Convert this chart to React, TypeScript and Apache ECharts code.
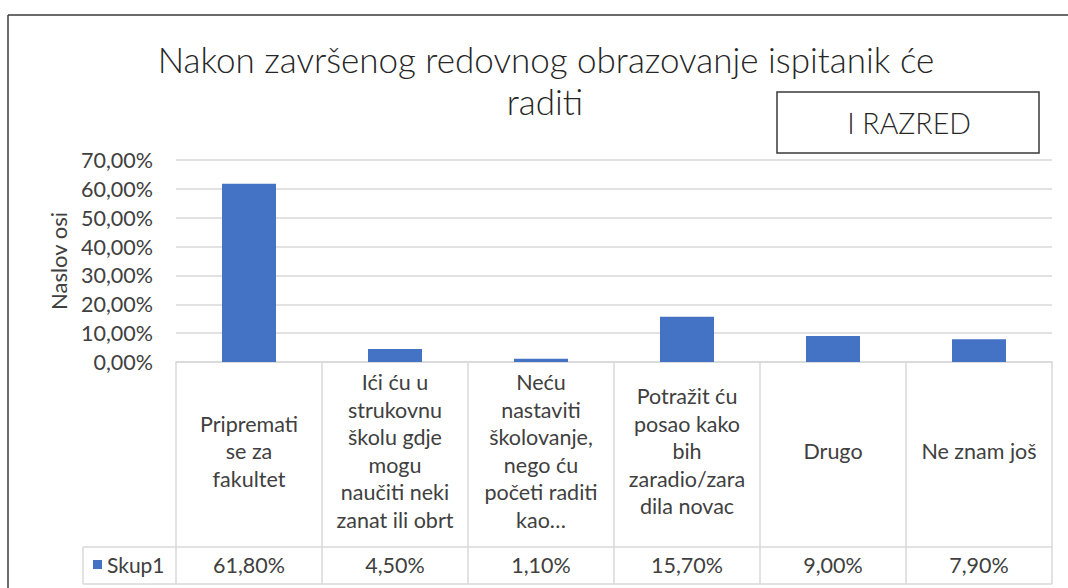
import React, { useEffect, useRef } from "react";
import * as echarts from "echarts";

const categories: string[] = [
  "Pripremati\nse za\nfakultet",
  "Ići ću u\nstrukovnu\nškolu gdje\nmogu\nnaučiti neki\nzanat ili obrt",
  "Neću\nnastaviti\nškolovanje,\nnego ću\npočeti raditi\nkao…",
  "Potražit ću\nposao kako\nbih\nzaradio/zara\ndila novac",
  "Drugo",
  "Ne znam još",
];
const values: number[] = [61.8, 4.5, 1.1, 15.7, 9.0, 7.9];
const seriesName = "Skup1";
const yMin = 0;
const yMax = 70;
const yInterval = 10;
const titleLines: string[] = ["Nakon završenog redovnog obrazovanje ispitanik će", "raditi"];
const boxLabel = "I RAZRED";
const axisName = "Naslov osi";

const FONT = "Lato, 'Liberation Sans', sans-serif";
const TXT = "#404040";
const GRIDC = "#d9d9d9";

const fmt = (v: number) => v.toFixed(2).replace(".", ",") + "%";

export default function App() {
  const ref = useRef<HTMLDivElement>(null);
  useEffect(() => {
    if (!ref.current) return;
    const chart = echarts.init(ref.current, undefined, { renderer: "svg" });
    const gridLeft = 176;
    const gridRight = 1052;
    const gridBottomY = 362;
    const rowSepY = 547;
    const tableBottomY = 584;
    const legendCellX = 83;
    chart.setOption({
      animation: false,
      textStyle: { fontFamily: FONT },
      grid: { left: gridLeft, right: 1068 - gridRight, top: 160, bottom: 588 - gridBottomY, containLabel: false },
      legend: {
        show: true,
        data: [seriesName],
        left: 93,
        top: 554,
        padding: 0,
        icon: "rect",
        itemWidth: 9,
        itemHeight: 9,
        itemGap: 0,
        textStyle: { fontSize: 21, color: TXT, fontFamily: FONT },
      },
      xAxis: [
        {
          type: "category",
          data: categories,
          boundaryGap: true,
          axisLine: { show: true, lineStyle: { color: GRIDC, width: 1.5 } },
          axisTick: { show: true, length: tableBottomY - gridBottomY, lineStyle: { color: GRIDC, width: 1.5 } },
          axisLabel: {
            interval: 0,
            margin: 89,
            verticalAlign: "middle",
            align: "center",
            lineHeight: 27.5,
            fontSize: 21.5,
            color: TXT,
            fontFamily: FONT,
          },
        },
        {
          type: "category",
          data: values.map(fmt),
          position: "bottom",
          offset: rowSepY - gridBottomY,
          axisLine: { show: false },
          axisTick: { show: false },
          axisLabel: {
            interval: 0,
            margin: 18,
            verticalAlign: "middle",
            fontSize: 21.5,
            color: TXT,
            fontFamily: FONT,
          },
        },
      ],
      yAxis: {
        type: "value",
        min: yMin,
        max: yMax,
        interval: yInterval,
        name: axisName,
        nameLocation: "middle",
        nameGap: 107,
        nameTextStyle: { fontSize: 22, color: TXT, fontFamily: FONT },
        axisLine: { show: false },
        axisTick: { show: false },
        axisLabel: { formatter: (v: number) => fmt(v), fontSize: 21.5, color: TXT, margin: 23, fontFamily: FONT },
        splitLine: { lineStyle: { color: GRIDC, width: 1.5 } },
      },
      series: [
        {
          name: seriesName,
          type: "bar",
          data: values,
          barWidth: "37%",
          itemStyle: { color: "#4472C4" },
        },
      ],
      graphic: [
        // outer chart frame
        { type: "line", shape: { x1: 8, y1: 15, x2: 1080, y2: 15 }, style: { stroke: "#3a3a3a", lineWidth: 1.5 } },
        { type: "line", shape: { x1: 8, y1: 15, x2: 8, y2: 600 }, style: { stroke: "#3a3a3a", lineWidth: 1.5 } },
        // data table lines
        { type: "line", shape: { x1: legendCellX, y1: rowSepY, x2: gridRight, y2: rowSepY }, style: { stroke: GRIDC, lineWidth: 1.5 } },
        { type: "line", shape: { x1: legendCellX, y1: tableBottomY, x2: gridRight, y2: tableBottomY }, style: { stroke: GRIDC, lineWidth: 1.5 } },
        { type: "line", shape: { x1: legendCellX, y1: rowSepY, x2: legendCellX, y2: tableBottomY }, style: { stroke: GRIDC, lineWidth: 1.5 } },
        // title
        {
          type: "text",
          x: 546,
          y: 59,
          style: { text: titleLines[0], fontSize: 35, fontWeight: 300, fill: "#262626", fontFamily: FONT, align: "center", verticalAlign: "middle" },
        },
        {
          type: "text",
          x: 545,
          y: 101,
          style: { text: titleLines[1], fontSize: 35, fontWeight: 300, fill: "#262626", fontFamily: FONT, align: "center", verticalAlign: "middle" },
        },
        // label box
        {
          type: "rect",
          shape: { x: 777, y: 92, width: 262, height: 61 },
          style: { fill: "#ffffff", stroke: "#3a3a3a", lineWidth: 1.5 },
        },
        {
          type: "text",
          x: 909,
          y: 123,
          style: { text: boxLabel, fontSize: 28.5, fontWeight: 300, fill: "#262626", fontFamily: FONT, align: "center", verticalAlign: "middle" },
        },
      ],
    });
    return () => chart.dispose();
  }, []);
  return (
    <div
      ref={ref}
      style={{ position: "fixed", left: 0, top: 0, width: 1068, height: 588, background: "#ffffff" }}
    />
  );
}
